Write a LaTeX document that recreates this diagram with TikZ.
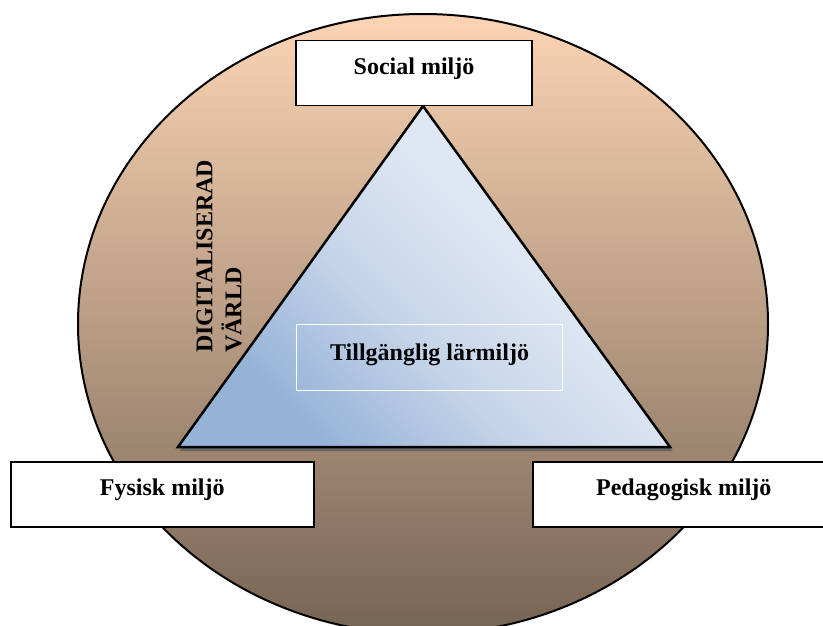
\documentclass[tikz,border=0pt]{standalone}
\usepackage{fontspec}
\setmainfont{Liberation Serif}
\usetikzlibrary{positioning}

\definecolor{kreisoben}{RGB}{251,212,180}
\definecolor{kreismitte}{RGB}{206,170,142}
\definecolor{kreisunten}{RGB}{118,100,84}
\definecolor{dreieckdunkel}{RGB}{149,179,215}
\definecolor{dreieckmittel}{RGB}{200,214,234}
\definecolor{dreieckhell}{RGB}{222,231,243}

\pgfdeclareverticalshading{dreieckverlauf}{100bp}{color(0bp)=(dreieckdunkel); color(27bp)=(dreieckdunkel); color(45bp)=(dreieckmittel); color(60bp)=(dreieckhell); color(100bp)=(dreieckhell)}

\tikzset{
	kasten/.style={draw=black, line width=1.5pt, fill=white, inner sep=0pt,
		text height=34pt, text depth=31pt, font=\fontsize{24}{29}\selectfont\bfseries},
}

\begin{document}
\begin{tikzpicture}[x=1pt, y=-1pt]
		
		\useasboundingbox (0,0) rectangle (823,626);
		
		% Kreis
		\shade[top color=kreisoben, middle color=kreismitte, bottom color=kreisunten] (423,324) ellipse (345 and 310);
		\draw[line width=2pt] (423,324) ellipse (345 and 310);
		
		% Dreieck
		\coordinate (spitze) at (423,106);
		\coordinate (links) at (178,447);
		\coordinate (rechts) at (670,447);
		\fill[black!60] ([shift={(2,4)}]spitze) -- ([shift={(2,4)}]links) -- ([shift={(2,4)}]rechts) -- cycle;
		\shadedraw[shading=dreieckverlauf, shading angle=-45, line width=2.5pt] (spitze) -- (links) -- (rechts) -- cycle;
		
		% Kaesten
		\node[kasten, minimum width=236pt, anchor=north] (sozial) at (414,40) {Social miljö};
		\node[kasten, minimum width=303pt, anchor=north west] (fysisk) at (10,461) {Fysisk miljö};
		\node[kasten, minimum width=302pt, anchor=north west] (pedagogisk) at (532,461) {Pedagogisk miljö};
		
		% Mitte
		\node[kasten, draw=white, fill=none, line width=1.2pt, minimum width=266pt, text height=36pt, text depth=30pt, anchor=north west] (mitte) at (296,324) {Tillgänglig lärmiljö};
		
		% Welt
		\node[rotate=90, anchor=south west, align=left, inner sep=0pt, font=\fontsize{24}{29}\selectfont\bfseries] (welt) at (242,353) {DIGITALISERAD\\VÄRLD};
		
\end{tikzpicture}
\end{document}
